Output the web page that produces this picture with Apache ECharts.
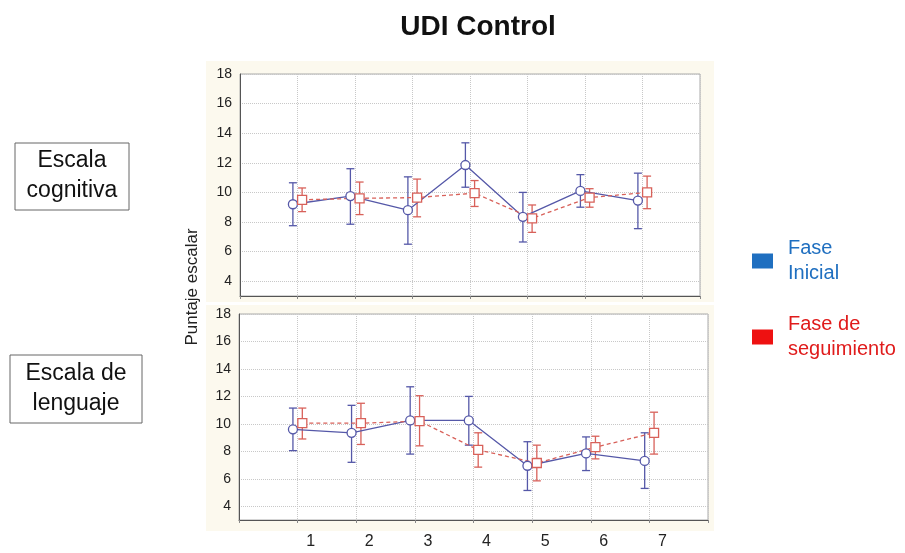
<!DOCTYPE html>
<html>
<head>
<meta charset="utf-8">
<script src="https://cdn.jsdelivr.net/npm/echarts@6/dist/echarts.min.js"></script>
<style>
  html, body { margin: 0; padding: 0; background: #fff; }
</style>
</head>
<body>
<div id="main" style="width: 905px;height:553px;"></div>
<script type="text/javascript">
    // 数据：x 位置 1..7
    var puntos = [1, 2, 3, 4, 5, 6, 7];
    var xLabels = ['1', '2', '3', '4', '5', '6', '7'];
    var yTicks = [4, 6, 8, 10, 12, 14, 16, 18];

    // Escala cognitiva
    var cogIniMedia = [9.2, 9.75, 8.8, 11.85, 8.35, 10.1, 9.45];
    var cogIniBajo  = [7.75, 7.85, 6.5, 10.35, 6.65, 9.0, 7.55];
    var cogIniAlto  = [10.65, 11.6, 11.05, 13.35, 10.0, 11.2, 11.3];
    var cogSegMedia = [9.5, 9.6, 9.65, 9.95, 8.25, 9.65, 10.0];
    var cogSegBajo  = [8.7, 8.5, 8.35, 9.05, 7.3, 9.0, 8.9];
    var cogSegAlto  = [10.3, 10.7, 10.9, 10.8, 9.15, 10.25, 11.1];

    // Escala de lenguaje
    var lenIniMedia = [9.6, 9.35, 10.25, 10.25, 6.95, 7.85, 7.3];
    var lenIniBajo  = [8.05, 7.2, 7.8, 8.45, 5.15, 6.6, 5.3];
    var lenIniAlto  = [11.15, 11.35, 12.7, 12.0, 8.7, 9.05, 9.35];
    var lenSegMedia = [10.05, 10.05, 10.2, 8.1, 7.15, 8.3, 9.35];
    var lenSegBajo  = [8.9, 8.5, 8.4, 6.85, 5.85, 7.45, 7.8];
    var lenSegAlto  = [11.15, 11.5, 12.05, 9.35, 8.45, 9.1, 10.85];

    var azul = '#5558a8';
    var rojo = '#d8615a';
    var desplaz = 0.08; // 两组点左右错开

    function puntosLinea(medias, dx) {
        return puntos.map(function (p, i) { return [p + dx, medias[i]]; });
    }
    function puntosError(bajo, alto, dx) {
        return puntos.map(function (p, i) { return [p + dx, bajo[i], alto[i]]; });
    }
    function renderError(color) {
        return function (params, api) {
            var x = api.value(0);
            var a = api.coord([x, api.value(2)]);
            var b = api.coord([x, api.value(1)]);
            var w = 4;
            var st = { stroke: color, lineWidth: 1.3 };
            return {
                type: 'group',
                children: [
                    { type: 'line', shape: { x1: a[0], y1: a[1], x2: b[0], y2: b[1] }, style: st },
                    { type: 'line', shape: { x1: a[0] - w, y1: a[1], x2: a[0] + w, y2: a[1] }, style: st },
                    { type: 'line', shape: { x1: b[0] - w, y1: b[1], x2: b[0] + w, y2: b[1] }, style: st }
                ]
            };
        };
    }

    function ejeX(idx, conEtiquetas) {
        return {
            type: 'value', gridIndex: idx, min: 0, max: 8, interval: 1,
            axisLine: { show: true, lineStyle: { color: '#555', width: 1 } },
            axisTick: { show: true, length: 3, lineStyle: { color: '#888' } },
            axisLabel: {
                show: conEtiquetas, margin: 14, fontSize: 16, color: '#222',
                fontFamily: 'Liberation Sans', padding: [0, 0, 0, 26],
                formatter: function (v) { return (v >= 1 && v <= 7) ? xLabels[v - 1] : ''; }
            },
            splitLine: { show: true, lineStyle: { color: '#c8c8c8', type: 'dotted' } }
        };
    }
    function ejeY(idx) {
        return {
            type: 'value', gridIndex: idx, min: 3, max: 18,
            axisLine: { show: true, lineStyle: { color: '#555', width: 1 } },
            axisTick: { show: false, customValues: yTicks },
            axisLabel: {
                margin: 8, fontSize: 14, color: '#222', fontFamily: 'Liberation Sans',
                customValues: yTicks
            },
            splitLine: { show: true, lineStyle: { color: '#c8c8c8', type: 'dotted' } }
        };
    }

    var myChart = echarts.init(document.getElementById('main'));

    var option = {
        backgroundColor: '#fff',
        animation: false,
        textStyle: { fontFamily: 'Liberation Sans' },
        title: {
            text: 'UDI Control', left: 473, top: 8, textAlign: 'center',
            textStyle: { fontSize: 28, fontWeight: 'bold', color: '#111', fontFamily: 'Liberation Sans' }
        },
        legend: {
            orient: 'vertical', left: 747, top: 231, itemGap: 26,
            itemWidth: 21, itemHeight: 15, icon: 'rect',
            formatter: function (name) {
                return name === 'Fase Inicial' ? 'Fase\nInicial' : 'Fase de\nseguimiento';
            },
            textStyle: { fontSize: 20, lineHeight: 25, fontFamily: 'Liberation Sans', padding: [0, 0, 0, 10] },
            data: [
                { name: 'Fase Inicial', itemStyle: { color: '#1f6fc0' }, textStyle: { color: '#1f6fc0' } },
                { name: 'Fase de seguimiento', itemStyle: { color: '#ee1111' }, textStyle: { color: '#e01b1b' } }
            ]
        },
        graphic: [
            { type: 'rect', z: -10, shape: { x: 206, y: 61, width: 508, height: 241 }, style: { fill: '#fcf9ee' } },
            { type: 'rect', z: -10, shape: { x: 206, y: 305, width: 508, height: 226 }, style: { fill: '#fcf9ee' } },
            { type: 'rect', shape: { x: 15, y: 143, width: 114, height: 67 }, style: { fill: '#fff', stroke: '#666', lineWidth: 1 } },
            { type: 'text', x: 72, y: 176, style: { text: 'Escala\ncognitiva', font: '23px "Liberation Sans"', fill: '#111', align: 'center', verticalAlign: 'middle', lineHeight: 30 } },
            { type: 'rect', shape: { x: 10, y: 355, width: 132, height: 68 }, style: { fill: '#fff', stroke: '#666', lineWidth: 1 } },
            { type: 'text', x: 76, y: 389, style: { text: 'Escala de\nlenguaje', font: '23px "Liberation Sans"', fill: '#111', align: 'center', verticalAlign: 'middle', lineHeight: 30 } },
            { type: 'text', x: 192, y: 287, rotation: Math.PI / 2, style: { text: 'Puntaje escalar', font: '17px "Liberation Sans"', fill: '#222', align: 'center', verticalAlign: 'middle' } }
        ],
        grid: [
            { left: 240, top: 74, width: 460, height: 222, show: true, backgroundColor: '#fff', borderColor: '#aaa', borderWidth: 1 },
            { left: 239, top: 314, width: 469, height: 206, show: true, backgroundColor: '#fff', borderColor: '#aaa', borderWidth: 1 }
        ],
        xAxis: [ejeX(0, false), ejeX(1, true)],
        yAxis: [ejeY(0), ejeY(1)],
        series: [
            { type: 'custom', name: 'Fase Inicial', xAxisIndex: 0, yAxisIndex: 0, renderItem: renderError(azul), data: puntosError(cogIniBajo, cogIniAlto, -desplaz), z: 2 },
            { type: 'custom', name: 'Fase de seguimiento', xAxisIndex: 0, yAxisIndex: 0, renderItem: renderError(rojo), data: puntosError(cogSegBajo, cogSegAlto, desplaz), z: 2 },
            { type: 'line', name: 'Fase Inicial', xAxisIndex: 0, yAxisIndex: 0, data: puntosLinea(cogIniMedia, -desplaz),
              symbol: 'circle', symbolSize: 9, lineStyle: { color: azul, width: 1.3 },
              itemStyle: { color: '#fff', borderColor: azul, borderWidth: 1.3 }, z: 3 },
            { type: 'line', name: 'Fase de seguimiento', xAxisIndex: 0, yAxisIndex: 0, data: puntosLinea(cogSegMedia, desplaz),
              symbol: 'rect', symbolSize: 9, lineStyle: { color: rojo, width: 1.3, type: [4, 3] },
              itemStyle: { color: '#fff', borderColor: rojo, borderWidth: 1.3 }, z: 3 },

            { type: 'custom', name: 'Fase Inicial', xAxisIndex: 1, yAxisIndex: 1, renderItem: renderError(azul), data: puntosError(lenIniBajo, lenIniAlto, -desplaz), z: 2 },
            { type: 'custom', name: 'Fase de seguimiento', xAxisIndex: 1, yAxisIndex: 1, renderItem: renderError(rojo), data: puntosError(lenSegBajo, lenSegAlto, desplaz), z: 2 },
            { type: 'line', name: 'Fase Inicial', xAxisIndex: 1, yAxisIndex: 1, data: puntosLinea(lenIniMedia, -desplaz),
              symbol: 'circle', symbolSize: 9, lineStyle: { color: azul, width: 1.3 },
              itemStyle: { color: '#fff', borderColor: azul, borderWidth: 1.3 }, z: 3 },
            { type: 'line', name: 'Fase de seguimiento', xAxisIndex: 1, yAxisIndex: 1, data: puntosLinea(lenSegMedia, desplaz),
              symbol: 'rect', symbolSize: 9, lineStyle: { color: rojo, width: 1.3, type: [4, 3] },
              itemStyle: { color: '#fff', borderColor: rojo, borderWidth: 1.3 }, z: 3 }
        ]
    };

    myChart.setOption(option);
</script>
</body>
</html>
